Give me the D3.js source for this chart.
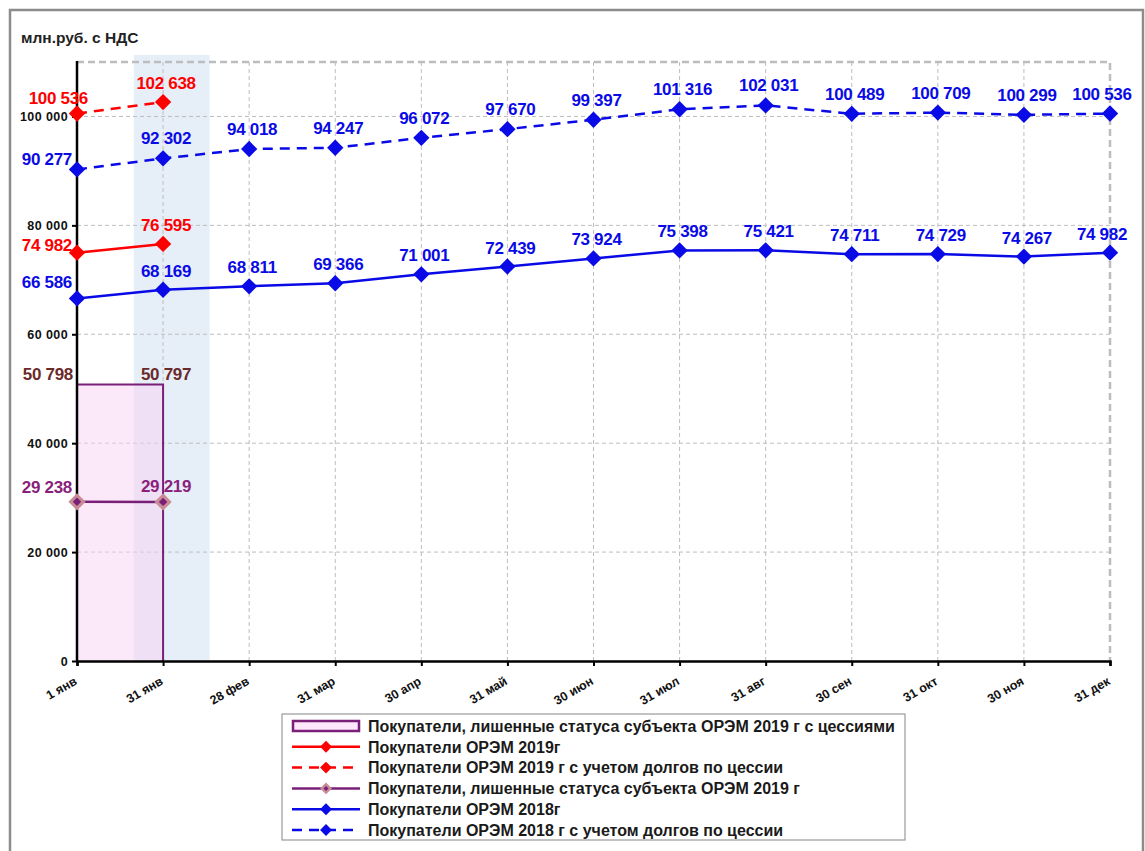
<!DOCTYPE html>
<html>
<head>
<meta charset="utf-8">
<script src="https://cdn.jsdelivr.net/npm/d3@7"></script>
<style>
  body { margin: 0; background: #fff; }
  text { font-family: "Liberation Sans", Arial, sans-serif; }
</style>
</head>
<body>
<div id="chart"></div>
<script>
// data
var months = ["1 янв", "31 янв", "28 фев", "31 мар", "30 апр", "31 май", "30 июн",
              "31 июл", "31 авг", "30 сен", "31 окт", "30 ноя", "31 дек"];
var yTicks = [0, 20000, 40000, 60000, 80000, 100000];

var orem2018Cession = [90277, 92302, 94018, 94247, 96072, 97670, 99397, 101316, 102031, 100489, 100709, 100299, 100536];
var orem2018 = [66586, 68169, 68811, 69366, 71001, 72439, 73924, 75398, 75421, 74711, 74729, 74267, 74982];
var orem2019 = [74982, 76595];
var orem2019Cession = [100536, 102638];
var deprived2019 = [29238, 29219];
var deprivedCession2019 = [50798, 50797];

var W = 1145, H = 851;
var svg = d3.select("#chart").append("svg")
    .attr("width", W).attr("height", H);

// outer frame
svg.append("rect")
    .attr("x", 10).attr("y", 10).attr("width", 1133).attr("height", 860)
    .attr("fill", "#fff").attr("stroke", "#8c8c8c").attr("stroke-width", 2.5);

svg.append("text")
    .attr("x", 21).attr("y", 43)
    .attr("font-size", 15.5).attr("font-weight", "bold").attr("fill", "#222")
    .text("млн.руб. с НДС");

var x = d3.scalePoint().domain(d3.range(months.length)).range([77, 1110]);
var y = d3.scaleLinear().domain([0, 110000]).range([661, 62]);
var step = x.step();

// highlighted current period
svg.append("rect")
    .attr("x", x(1) - 0.34 * step).attr("y", 55)
    .attr("width", 0.88 * step).attr("height", y(0) - 55)
    .attr("fill", "#e6eff8");

// grid
svg.append("g").selectAll("line")
    .data(yTicks.filter(function(d) { return d > 0; }))
    .enter().append("line")
    .attr("x1", x(0)).attr("x2", x(12))
    .attr("y1", function(d) { return y(d); }).attr("y2", function(d) { return y(d); })
    .attr("stroke", "#bdbdbd").attr("stroke-dasharray", "4,3").attr("stroke-width", 1);

svg.append("g").selectAll("line")
    .data(d3.range(1, 12))
    .enter().append("line")
    .attr("x1", function(d) { return x(d); }).attr("x2", function(d) { return x(d); })
    .attr("y1", y(110000)).attr("y2", y(0))
    .attr("stroke", "#bdbdbd").attr("stroke-dasharray", "4,3").attr("stroke-width", 1);

// top and right border of the plot area
svg.append("path")
    .attr("d", "M" + x(0) + "," + y(110000) + "H" + x(12) + "V" + y(0))
    .attr("fill", "none").attr("stroke", "#bdbdbd")
    .attr("stroke-width", 2.5).attr("stroke-dasharray", "7,4");

// area: deprived buyers with cessions
var area = d3.area()
    .x(function(d, i) { return x(i); })
    .y0(y(0))
    .y1(function(d) { return y(d); });

svg.append("path")
    .datum(deprivedCession2019)
    .attr("d", area)
    .attr("fill", "#f8d2f4").attr("fill-opacity", 0.5);

svg.append("path")
    .datum(deprivedCession2019)
    .attr("d", function(d) {
      return "M" + x(0) + "," + y(d[0]) + "L" + x(1) + "," + y(d[1]) + "V" + y(0);
    })
    .attr("fill", "none").attr("stroke", "#7a1f78").attr("stroke-width", 2);

// axes
var yAxis = svg.append("g")
    .attr("transform", "translate(" + x(0) + ",0)")
    .call(d3.axisLeft(y).tickValues(yTicks).tickSize(5)
      .tickFormat(function(d) { return d3.format(",")(d).replace(/,/g, " "); }));
yAxis.select(".domain").remove();
yAxis.selectAll("line").attr("stroke", "#000").attr("stroke-width", 2);
yAxis.selectAll("text")
    .attr("font-size", 12.5).attr("font-weight", "bold").attr("fill", "#111")
    .attr("font-family", "Liberation Sans, Arial, sans-serif")
    .attr("letter-spacing", 0.4).attr("x", -9);

svg.append("line")
    .attr("x1", x(0)).attr("x2", x(0)).attr("y1", y(110000) - 1).attr("y2", y(0) + 1)
    .attr("stroke", "#000").attr("stroke-width", 2.5);

var xAxis = svg.append("g")
    .attr("transform", "translate(0," + y(0) + ")")
    .call(d3.axisBottom(x).tickSize(5).tickFormat(function(i) { return months[i]; }));
xAxis.select(".domain").attr("stroke", "#000").attr("stroke-width", 2.5);
xAxis.selectAll("line").attr("stroke", "#000").attr("stroke-width", 2);
xAxis.selectAll("text")
    .attr("font-size", 12.5).attr("font-weight", "bold").attr("fill", "#111")
    .attr("font-family", "Liberation Sans, Arial, sans-serif")
    .attr("text-anchor", "end")
    .attr("transform", "translate(-4,15) rotate(-30)")
    .attr("y", 0).attr("dy", "0.7em");

var blue = "#0a0ae6", red = "#ff0000", purple = "#7a1f78";

var line = d3.line()
    .x(function(d, i) { return x(i); })
    .y(function(d) { return y(d); });

var diamond = d3.symbol().type(d3.symbolDiamond2);

function drawSeries(values, color, dash, marker) {
  svg.append("path")
      .datum(values)
      .attr("d", line)
      .attr("fill", "none").attr("stroke", color).attr("stroke-width", 2.5)
      .attr("stroke-dasharray", dash);
  var g = svg.append("g");
  values.forEach(function(v, i) {
    if (marker === "pink") {
      g.append("path").attr("d", diamond.size(190)())
        .attr("transform", "translate(" + x(i) + "," + y(v) + ")")
        .attr("fill", "#c98b95");
      g.append("path").attr("d", diamond.size(45)())
        .attr("transform", "translate(" + x(i) + "," + y(v) + ")")
        .attr("fill", purple);
    } else {
      g.append("path").attr("d", diamond.size(170)())
        .attr("transform", "translate(" + x(i) + "," + y(v) + ")")
        .attr("fill", color);
    }
  });
}

drawSeries(orem2018, blue, null);
drawSeries(orem2018Cession, blue, "10,7");
drawSeries(orem2019, red, null);
drawSeries(orem2019Cession, red, "10,7");
drawSeries(deprived2019, purple, null, "pink");

// data labels
var fmt = function(v) { return d3.format(",")(v).replace(/,/g, " "); };

function drawLabels(values, color, first, above) {
  svg.append("g").selectAll("text")
    .data(values)
    .enter().append("text")
    .attr("x", function(d, i) { return i === 0 ? x(0) + first[0] : x(i) + (i === 12 ? -8 : 3); })
    .attr("y", function(d, i) { return y(d) + (i === 0 ? first[1] : above); })
    .attr("text-anchor", function(d, i) { return i === 0 ? "end" : "middle"; })
    .attr("font-size", 17).attr("font-weight", "bold").attr("fill", color)
    .attr("letter-spacing", -0.3)
    .text(fmt);
}

drawLabels(orem2018Cession, blue, [-5, -4], -14);
drawLabels(orem2018, blue, [-5, -10], -13);
drawLabels(orem2019, red, [-5, -2], -13);
drawLabels(orem2019Cession, red, [11, -10], -13);
drawLabels(deprived2019, "#8a1f7c", [-5, -9], -10);
drawLabels(deprivedCession2019, "#6b2a2a", [-4, -4], -4);

// legend
var legendItems = [
  {name: "Покупатели, лишенные статуса субъекта ОРЭМ 2019 г с цессиями", type: "area"},
  {name: "Покупатели ОРЭМ 2019г", color: red, dash: null},
  {name: "Покупатели ОРЭМ 2019 г с учетом долгов по цессии", color: red, dash: "10,7"},
  {name: "Покупатели, лишенные статуса субъекта ОРЭМ 2019 г", color: purple, dash: null, marker: "pink"},
  {name: "Покупатели ОРЭМ 2018г", color: blue, dash: null},
  {name: "Покупатели ОРЭМ 2018 г с учетом долгов по цессии", color: blue, dash: "10,7"}
];

svg.append("rect")
    .attr("x", 282).attr("y", 714).attr("width", 623).attr("height", 126)
    .attr("fill", "#fff").attr("stroke", "#9a9a9a").attr("stroke-width", 1.2);

var leg = svg.append("g").selectAll("g")
    .data(legendItems)
    .enter().append("g")
    .attr("transform", function(d, i) { return "translate(292," + (726 + i * 20.8) + ")"; });

leg.each(function(d) {
  var g = d3.select(this);
  if (d.type === "area") {
    g.append("rect").attr("x", 1).attr("y", -5).attr("width", 66).attr("height", 10)
      .attr("fill", "#fde6fb").attr("stroke", purple).attr("stroke-width", 2.5);
  } else {
    g.append("line").attr("x1", 0).attr("x2", 68).attr("y1", 0).attr("y2", 0)
      .attr("stroke", d.color).attr("stroke-width", 2.5).attr("stroke-dasharray", d.dash);
    if (d.marker === "pink") {
      g.append("path").attr("d", diamond.size(90)()).attr("transform", "translate(34,0)").attr("fill", "#c98b95");
      g.append("path").attr("d", diamond.size(16)()).attr("transform", "translate(34,0)").attr("fill", purple);
    } else {
      g.append("path").attr("d", diamond.size(90)()).attr("transform", "translate(34,0)").attr("fill", d.color);
    }
  }
  g.append("text").attr("x", 76).attr("y", 0).attr("dy", "0.36em")
    .attr("font-size", 16).attr("font-weight", "bold").attr("fill", "#1a1a1a")
    .text(d.name);
});
</script>
</body>
</html>
